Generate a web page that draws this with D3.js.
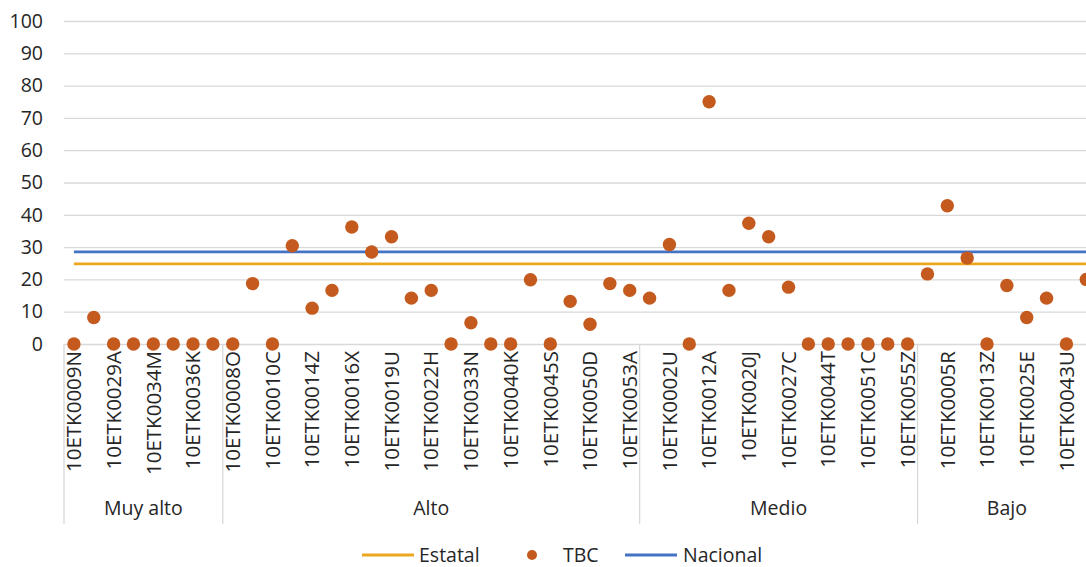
<!DOCTYPE html>
<html>
<head>
<meta charset="utf-8">
<script src="https://cdn.jsdelivr.net/npm/d3@7"></script>
<style>
  body { margin: 0; background: #fff; }
  text { font-family: "Open Sans", "Noto Sans", sans-serif; fill: #262626; }
</style>
</head>
<body>
<div id="chart"></div>
<script>
// TBC values, one per school (left to right)
const tbcValues = [
  0, 8.2, 0, 0, 0, 0, 0, 0,
  0, 18.7, 0, 30.4, 11.1, 16.6, 36.2, 28.5, 33.2, 14.2, 16.6, 0, 6.6, 0, 0, 19.9, 0, 13.2, 6.1, 18.7, 16.6,
  14.2, 30.8, 0, 75, 16.6, 37.4, 33.2, 17.6, 0, 0, 0, 0, 0, 0,
  21.7, 42.8, 26.6, 0, 18.1, 8.2, 14.2, 0, 20
]
// only every other school code is printed on the axis
const tickLabels = [
  "10ETK0009N", "10ETK0029A", "10ETK0034M", "10ETK0036K",
  "10ETK0008O", "10ETK0010C", "10ETK0014Z", "10ETK0016X", "10ETK0019U", "10ETK0022H",
  "10ETK0033N", "10ETK0040K", "10ETK0045S", "10ETK0050D", "10ETK0053A",
  "10ETK0002U", "10ETK0012A", "10ETK0020J", "10ETK0027C", "10ETK0044T", "10ETK0051C", "10ETK0055Z",
  "10ETK0005R", "10ETK0013Z", "10ETK0025E", "10ETK0043U"
]
const groupNames = ["Muy alto", "Alto", "Medio", "Bajo"]
const groupSizes = [8, 21, 14, 9]
const estatal = 24.8
const nacional = 28.5
const yTicks = [0, 10, 20, 30, 40, 50, 60, 70, 80, 90, 100]

const width = 1086, height = 567
const margin = {top: 21, left: 64, bottom: 344}
const bandW = 19.85
const fontSize = 19.5

const svg = d3.select("#chart").append("svg")
  .attr("width", width)
  .attr("height", height)

const idx = tbcValues.map((d, i) => i)
const x = d3.scaleBand()
  .domain(idx)
  .range([margin.left, margin.left + bandW * tbcValues.length])
const y = d3.scaleLinear()
  .domain([0, 100])
  .range([margin.bottom, margin.top])

//gridlines + y labels
const yAxis = d3.axisLeft(y).tickValues(yTicks).tickSize(-(width - margin.left)).tickPadding(21)
svg.append("g")
  .attr("class", "yAxis")
  .attr("transform", "translate(" + margin.left + ",0)")
  .call(yAxis)
  .call(g => g.select(".domain").remove())
  .call(g => g.selectAll("line").attr("stroke", "#d9d9d9").attr("stroke-width", 1.3))
  .call(g => g.selectAll("text").attr("font-size", fontSize).attr("fill", "#262626"))

//category labels, every second one
const xAxis = d3.axisBottom(x)
  .tickValues(idx.filter(i => i % 2 === 0))
  .tickFormat(i => tickLabels[i / 2])
  .tickSize(0)
svg.append("g")
  .attr("class", "xAxis")
  .attr("transform", "translate(0," + margin.bottom + ")")
  .call(xAxis)
  .call(g => g.select(".domain").remove())
  .call(g => g.selectAll("text")
    .attr("font-size", 20.5)
    .attr("transform", "rotate(-90)")
    .attr("text-anchor", "end")
    .attr("x", -7)
    .attr("y", 0)
    .attr("dy", "0.35em"))

//group separators and group names
let start = 0
const bounds = [0]
groupSizes.forEach(s => { start += s; bounds.push(start) })
bounds.forEach(b => {
  const bx = b < tbcValues.length ? x(b) : x(b - 1) + x.bandwidth()
  svg.append("line")
    .attr("x1", bx).attr("x2", bx)
    .attr("y1", margin.bottom).attr("y2", 524)
    .attr("stroke", "#d9d9d9").attr("stroke-width", 1.3)
})
groupNames.forEach((n, i) => {
  const x0 = x(bounds[i])
  const x1 = x(bounds[i + 1] - 1) + x.bandwidth()
  svg.append("text")
    .attr("x", (x0 + x1) / 2)
    .attr("y", 508)
    .attr("dy", "0.35em")
    .attr("text-anchor", "middle")
    .attr("font-size", fontSize)
    .text(n)
})

//reference lines from first to last category centre
const half = x.bandwidth() / 2
const refs = [{v: estatal, c: "#EBA81F"}, {v: nacional, c: "#4472C4"}]
refs.forEach(r => {
  svg.append("line")
    .attr("x1", x(0) + half).attr("x2", x(tbcValues.length - 1) + half)
    .attr("y1", y(r.v)).attr("y2", y(r.v))
    .attr("stroke", r.c).attr("stroke-width", 2.8)
})

//TBC dots
svg.append("g").selectAll("circle")
  .data(tbcValues)
  .join("circle")
  .attr("cx", (d, i) => x(i) + half)
  .attr("cy", d => y(d))
  .attr("r", 6.7)
  .attr("fill", "#C55A1E")

//legend
const legY = 555
const legend = svg.append("g").attr("class", "legend")
legend.append("line").attr("x1", 362).attr("x2", 414).attr("y1", legY).attr("y2", legY)
  .attr("stroke", "#EBA81F").attr("stroke-width", 2.8)
legend.append("text").attr("x", 419).attr("y", legY).attr("dy", "0.35em").attr("font-size", fontSize).text("Estatal")
legend.append("circle").attr("cx", 532).attr("cy", legY).attr("r", 5).attr("fill", "#C55A1E")
legend.append("text").attr("x", 563).attr("y", legY).attr("dy", "0.35em").attr("font-size", fontSize).text("TBC")
legend.append("line").attr("x1", 625).attr("x2", 677).attr("y1", legY).attr("y2", legY)
  .attr("stroke", "#4472C4").attr("stroke-width", 2.8)
legend.append("text").attr("x", 683).attr("y", legY).attr("dy", "0.35em").attr("font-size", fontSize).text("Nacional")
</script>
</body>
</html>
